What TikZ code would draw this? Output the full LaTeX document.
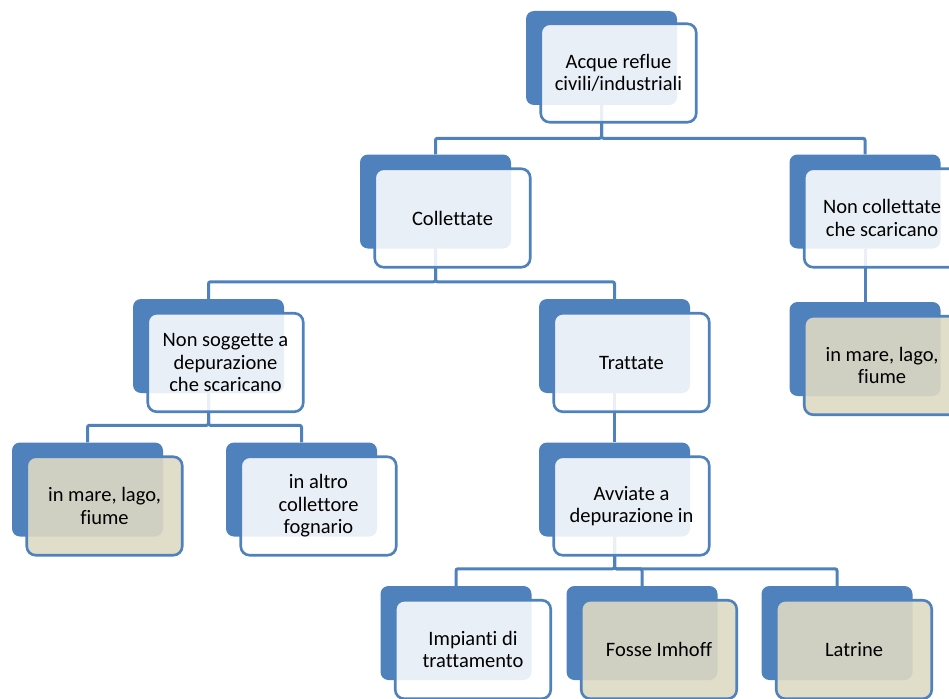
\documentclass[tikz,border=0pt]{standalone}
\usepackage{fontspec}
\setmainfont{Carlito}[Ligatures=CommonOff]

\definecolor{smartblue}{HTML}{4F81BD}
\definecolor{smarttan}{HTML}{DDD9C3}

% connectors go below the boxes
\pgfdeclarelayer{links}
\pgfsetlayers{links,main}

\begin{document}
\begin{tikzpicture}[x=1pt,y=-1pt,
    back/.style={rectangle,rounded corners=8pt,fill=smartblue,
                 minimum width=151pt,minimum height=94pt,inner sep=0pt},
    front/.style={rectangle,rounded corners=9pt,draw=smartblue,line width=2.6pt,
                  fill=white,fill opacity=0.88,text opacity=1,
                  minimum width=155.5pt,minimum height=98.5pt,inner sep=2pt,
                  align=center,font=\fontsize{20.5}{22.5}\selectfont},
    tan front/.style={front,fill=smarttan,fill opacity=0.9},
    link/.style={draw=smartblue,line width=3pt,rounded corners=2pt}]
  \path[use as bounding box] (0,0) rectangle (949,698);
  \clip (0,0) rectangle (949,698);

  % level 0
  \node[back] (acque) at (601.5,58) {};
  \node[front] at ([shift={(17,15)}]acque) {Acque reflue\\civili/industriali};
  % level 1
  \node[back] (collettate) at (435.5,201.5) {};
  \node[front] at ([shift={(17,16.5)}]collettate) {Collettate};
  \node[back] (noncoll) at (865,201.5) {};
  \node[front] at ([shift={(17,16.5)}]noncoll) {Non collettate\\che scaricano};
  % level 2
  \node[back] (nonsogg) at (208.5,346) {};
  \node[front] at ([shift={(17,16.5)}]nonsogg) {Non soggette a\\depurazione\\che scaricano};
  \node[back] (trattate) at (614.5,346) {};
  \node[front] at ([shift={(17,16.5)}]trattate) {Trattate};
  \node[back] (mare2) at (865,349) {};
  \node[tan front] at ([shift={(17,16.5)}]mare2) {in mare, lago,\\fiume};
  % level 3
  \node[back] (mare1) at (87.5,489.5) {};
  \node[tan front] at ([shift={(17,16.5)}]mare1) {in mare, lago,\\fiume};
  \node[back] (altro) at (301.5,489.5) {};
  \node[front] at ([shift={(17,16.5)}]altro) {in altro\\collettore\\fognario};
  \node[back] (avviate) at (614.5,489.5) {};
  \node[front] at ([shift={(17,16.5)}]avviate) {Avviate a\\depurazione in};
  % level 4
  \node[back] (impianti) at (456,633) {};
  \node[front] at ([shift={(17,16.5)}]impianti) {Impianti di\\trattamento};
  \node[back] (fosse) at (642,633) {};
  \node[tan front] at ([shift={(17,16.5)}]fosse) {Fosse Imhoff};
  \node[back] (latrine) at (837,633) {};
  \node[tan front] at ([shift={(17,16.5)}]latrine) {Latrine};

  \begin{pgfonlayer}{links}
    \path[link] (acque.south) |- ([yshift=16pt]collettate.north) -- (collettate.north);
    \path[link] (acque.south) |- ([yshift=16pt]noncoll.north) -- (noncoll.north);
    \path[link] (noncoll.south) -- (mare2.north);
    \path[link] (collettate.south) |- ([yshift=17pt]nonsogg.north) -- (nonsogg.north);
    \path[link] (collettate.south) |- ([yshift=17pt]trattate.north) -- (trattate.north);
    \path[link] (nonsogg.south) |- ([yshift=17pt]mare1.north) -- (mare1.north);
    \path[link] (nonsogg.south) |- ([yshift=17pt]altro.north) -- (altro.north);
    \path[link] (trattate.south) -- (avviate.north);
    \path[link] (avviate.south) |- ([yshift=17pt]impianti.north) -- (impianti.north);
    \path[link] (avviate.south) |- ([yshift=17pt]fosse.north) -- (fosse.north);
    \path[link] (avviate.south) |- ([yshift=17pt]latrine.north) -- (latrine.north);
  \end{pgfonlayer}
\end{tikzpicture}
\end{document}
